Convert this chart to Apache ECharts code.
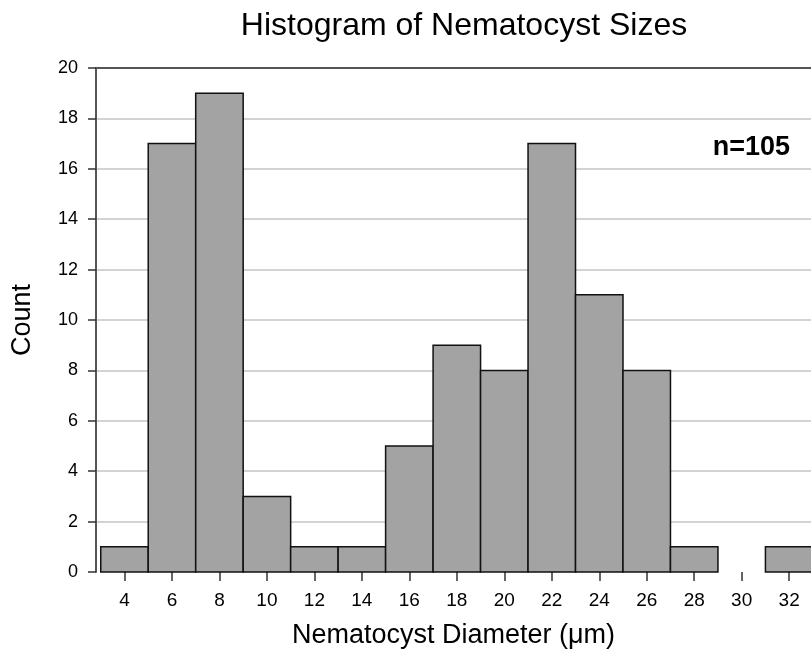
<!DOCTYPE html>
<html>
<head>
<meta charset="utf-8">
<style>html,body{margin:0;padding:0;background:#fff}#c{width:811px;height:659px}</style>
<script src="https://cdn.jsdelivr.net/npm/echarts@6/dist/echarts.min.js"></script>
</head>
<body>
<div id="c"></div>
<script>
const binCenters = [4, 6, 8, 10, 12, 14, 16, 18, 20, 22, 24, 26, 28, 30, 32];
const counts     = [1, 17, 19, 3, 1, 1, 5, 9, 8, 17, 11, 8, 1, 0, 1];
const binWidth = 2;
const xTickValues = [4, 6, 8, 10, 12, 14, 16, 18, 20, 22, 24, 26, 28, 30, 32];
const titleText = 'Histogram of Nematocyst Sizes';
const xName = 'Nematocyst Diameter (μm)';
const yName = 'Count';
const note = 'n=105';

const font = 'Liberation Sans, Arial, sans-serif';
const chart = echarts.init(document.getElementById('c'), null, {renderer: 'canvas'});
chart.setOption({
  animation: false,
  title: {
    text: titleText, left: 459, top: 5, textAlign: 'center',
    textStyle: {fontFamily: font, fontSize: 32, fontWeight: 'normal', color: '#000'}
  },
  grid: {left: 96, top: 68, width: 715, height: 504, containLabel: false, outerBoundsMode: 'none'},
  xAxis: [{
    type: 'value', min: 2.8, max: 32.92,
    axisLine: {show: false},
    axisTick: {show: true, customValues: xTickValues, length: 9, lineStyle: {color: '#333', width: 1.5}},
    axisLabel: {customValues: xTickValues, margin: 19, fontFamily: font, fontSize: 19, color: '#000'},
    splitLine: {show: false},
    name: xName, nameLocation: 'middle', nameGap: 50,
    nameTextStyle: {fontFamily: font, fontSize: 27, color: '#000'}
  }, {
    type: 'value', position: 'top', min: 2.8, max: 32.92,
    axisLine: {show: true, lineStyle: {color: '#555', width: 2}},
    axisTick: {show: false}, axisLabel: {show: false}, splitLine: {show: false}
  }],
  yAxis: {
    type: 'value', min: 0, max: 20, interval: 2,
    axisLine: {show: true, lineStyle: {color: '#555', width: 2}},
    axisTick: {show: true, length: 8, lineStyle: {color: '#333', width: 1.5}},
    axisLabel: {margin: 18, fontFamily: font, fontSize: 18, color: '#000'},
    splitLine: {show: true, showMinLine: false, lineStyle: {color: '#c4c4c4', width: 1.5}},
    name: yName, nameLocation: 'middle', nameGap: 60, nameRotate: 90,
    nameTextStyle: {fontFamily: font, fontSize: 27, color: '#000'}
  },
  series: [{
    type: 'custom',
    xAxisIndex: 0,
    data: binCenters.map((c, i) => [c, counts[i]]),
    renderItem: function (params, api) {
      const c = api.value(0), v = api.value(1);
      if (!v) return null;
      const p0 = api.coord([c - binWidth / 2, v]);
      const p1 = api.coord([c + binWidth / 2, 0]);
      return {
        type: 'rect',
        shape: {x: p0[0], y: p0[1], width: p1[0] - p0[0], height: p1[1] - p0[1]},
        style: {fill: '#a3a3a3', stroke: '#111', lineWidth: 1.5}
      };
    }
  }],
  graphic: [{
    type: 'text', right: 21, top: 134,
    style: {text: note, fontFamily: font, fontSize: 27, fontWeight: 'bold', fill: '#000'}
  }]
});
</script>
</body>
</html>
